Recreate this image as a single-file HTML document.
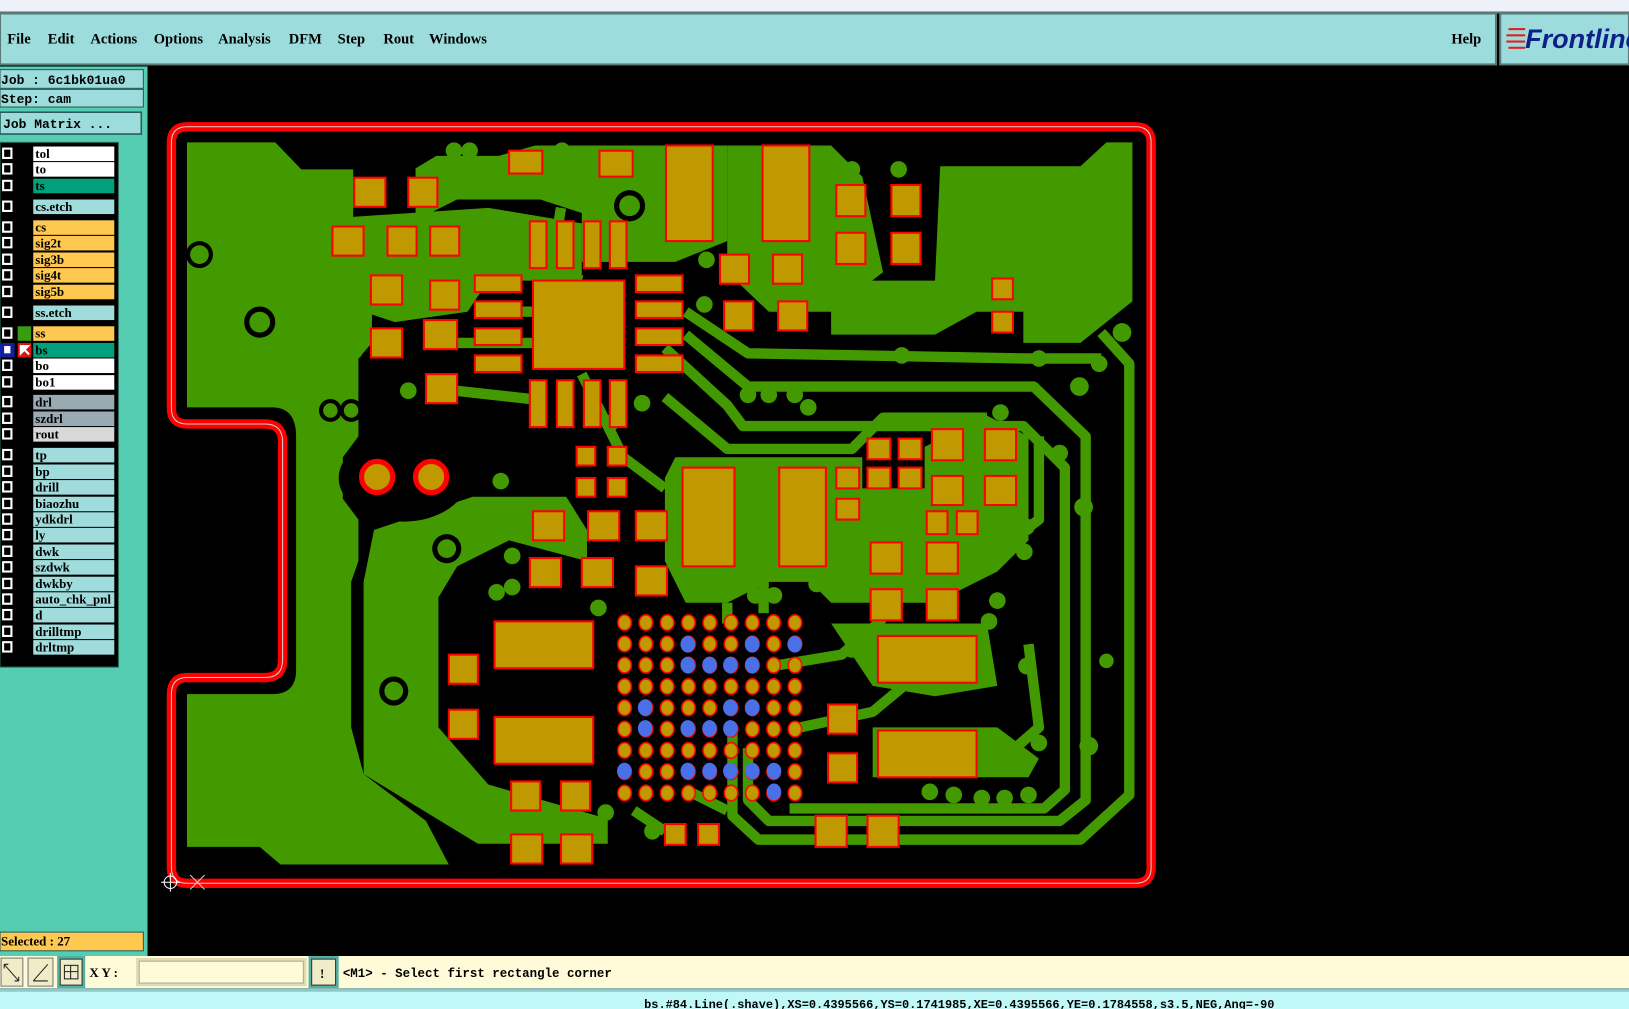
<!DOCTYPE html>
<html><head><meta charset="utf-8"><style>
html,body{margin:0;padding:0;background:#000;overflow:hidden}
svg{display:block}
.m{font-family:"Liberation Serif",serif;font-weight:bold;font-size:14px;fill:#000}
.t{font-family:"Liberation Mono",monospace;font-weight:bold;font-size:12.5px;fill:#000}
.r{font-family:"Liberation Serif",serif;font-weight:bold;font-size:12.5px;fill:#000}
</style></head><body>
<svg width="1629" height="1009" viewBox="0 0 1568 971" preserveAspectRatio="none" xmlns="http://www.w3.org/2000/svg">
<defs>
<pattern id="bga" patternUnits="userSpaceOnUse" x="591" y="589" width="20.5" height="20.5">
<ellipse cx="10.2" cy="10.2" rx="6.5" ry="7.5" fill="#c09800" stroke="#ff0000" stroke-width="1.5"/>
</pattern>
</defs>
<rect width="1568" height="971" fill="#000"/>
<!-- title bar -->
<rect x="0" y="0" width="1568" height="12" fill="#eef2f8"/>
<rect x="0" y="11" width="1568" height="2" fill="#5a7a7a"/>
<!-- menu bar -->
<rect x="0" y="13" width="1440" height="49" fill="#9ddcdc" stroke="#5a7a7a" stroke-width="2"/>
<rect x="1444" y="13" width="124" height="49" fill="#9ddcdc" stroke="#5a7a7a" stroke-width="2"/>
<text class="m" x="7" y="42">File</text>
<text class="m" x="46" y="42">Edit</text>
<text class="m" x="87" y="42">Actions</text>
<text class="m" x="148" y="42">Options</text>
<text class="m" x="210" y="42">Analysis</text>
<text class="m" x="278" y="42">DFM</text>
<text class="m" x="325" y="42">Step</text>
<text class="m" x="369" y="42">Rout</text>
<text class="m" x="413" y="42">Windows</text>
<text class="m" x="1397" y="42">Help</text>
<g fill="#e02020"><rect x="1452" y="27" width="16" height="2"/><rect x="1450" y="33" width="18" height="2"/><rect x="1450" y="39" width="18" height="2"/><rect x="1452" y="45" width="16" height="2"/></g>
<text x="1468" y="46" font-family="Liberation Sans,sans-serif" font-weight="bold" font-style="italic" font-size="26" fill="#10208a">Frontline</text>
<!-- left panel -->
<rect x="0" y="64" width="142" height="856" fill="#55cdb2"/>
<rect x="0" y="67" width="138" height="18" fill="#9ddcdc" stroke="#2a5a5a" stroke-width="1"/>
<rect x="0" y="86" width="138" height="17" fill="#9ddcdc" stroke="#2a5a5a" stroke-width="1"/>
<rect x="0" y="108" width="136" height="21" fill="#9ddcdc" stroke="#2a5a5a" stroke-width="1.5"/>
<text class="t" x="1" y="81">Job : 6c1bk01ua0</text>
<text class="t" x="1" y="99">Step: cam</text>
<text class="t" x="3" y="123">Job Matrix ...</text>
<rect x="0" y="137" width="114" height="505" fill="#000" stroke="#2a6a5a"/>
<g class="r">
<rect x="32" y="141" width="78" height="14" fill="#fff"/><text class="r" x="34" y="152">tol</text>
<rect x="32" y="156" width="78" height="14" fill="#fff"/><text class="r" x="34" y="167">to</text>
<rect x="32" y="172" width="78" height="14" fill="#00a07c"/><text class="r" x="34" y="183">ts</text>
<rect x="32" y="192" width="78" height="14" fill="#a0dcdc"/><text class="r" x="34" y="203">cs.etch</text>
<rect x="32" y="212" width="78" height="14" fill="#ffc850"/><text class="r" x="34" y="223">cs</text>
<rect x="32" y="227" width="78" height="14" fill="#ffc850"/><text class="r" x="34" y="238">sig2t</text>
<rect x="32" y="243" width="78" height="14" fill="#ffc850"/><text class="r" x="34" y="254">sig3b</text>
<rect x="32" y="258" width="78" height="14" fill="#ffc850"/><text class="r" x="34" y="269">sig4t</text>
<rect x="32" y="274" width="78" height="14" fill="#ffc850"/><text class="r" x="34" y="285">sig5b</text>
<rect x="32" y="294" width="78" height="14" fill="#a0dcdc"/><text class="r" x="34" y="305">ss.etch</text>
<rect x="32" y="314" width="78" height="14" fill="#ffc850"/><text class="r" x="34" y="325">ss</text>
<rect x="32" y="330" width="78" height="14" fill="#00a07c"/><text class="r" x="34" y="341">bs</text>
<rect x="32" y="345" width="78" height="14" fill="#fff"/><text class="r" x="34" y="356">bo</text>
<rect x="32" y="361" width="78" height="14" fill="#fff"/><text class="r" x="34" y="372">bo1</text>
<rect x="32" y="380" width="78" height="14" fill="#9aaab2"/><text class="r" x="34" y="391">drl</text>
<rect x="32" y="396" width="78" height="14" fill="#9aaab2"/><text class="r" x="34" y="407">szdrl</text>
<rect x="32" y="411" width="78" height="14" fill="#d8d8d8"/><text class="r" x="34" y="422">rout</text>
<rect x="32" y="431" width="78" height="14" fill="#a0dcdc"/><text class="r" x="34" y="442">tp</text>
<rect x="32" y="447" width="78" height="14" fill="#a0dcdc"/><text class="r" x="34" y="458">bp</text>
<rect x="32" y="462" width="78" height="14" fill="#a0dcdc"/><text class="r" x="34" y="473">drill</text>
<rect x="32" y="478" width="78" height="14" fill="#a0dcdc"/><text class="r" x="34" y="489">biaozhu</text>
<rect x="32" y="493" width="78" height="14" fill="#a0dcdc"/><text class="r" x="34" y="504">ydkdrl</text>
<rect x="32" y="508" width="78" height="14" fill="#a0dcdc"/><text class="r" x="34" y="519">ly</text>
<rect x="32" y="524" width="78" height="14" fill="#a0dcdc"/><text class="r" x="34" y="535">dwk</text>
<rect x="32" y="539" width="78" height="14" fill="#a0dcdc"/><text class="r" x="34" y="550">szdwk</text>
<rect x="32" y="555" width="78" height="14" fill="#a0dcdc"/><text class="r" x="34" y="566">dwkby</text>
<rect x="32" y="570" width="78" height="14" fill="#a0dcdc"/><text class="r" x="34" y="581">auto_chk_pnl</text>
<rect x="32" y="585" width="78" height="14" fill="#a0dcdc"/><text class="r" x="34" y="596">d</text>
<rect x="32" y="601" width="78" height="14" fill="#a0dcdc"/><text class="r" x="34" y="612">drilltmp</text>
<rect x="32" y="616" width="78" height="14" fill="#a0dcdc"/><text class="r" x="34" y="627">drltmp</text>
</g>
<g fill="#000" stroke="#fff" stroke-width="2">
<rect x="3" y="143" width="8" height="9"/><rect x="3" y="158" width="8" height="9"/><rect x="3" y="174" width="8" height="9"/>
<rect x="3" y="194" width="8" height="9"/>
<rect x="3" y="214" width="8" height="9"/><rect x="3" y="229" width="8" height="9"/><rect x="3" y="245" width="8" height="9"/><rect x="3" y="260" width="8" height="9"/><rect x="3" y="276" width="8" height="9"/>
<rect x="3" y="296" width="8" height="9"/>
<rect x="3" y="316" width="8" height="9"/><rect x="3" y="347" width="8" height="9"/><rect x="3" y="363" width="8" height="9"/>
<rect x="3" y="382" width="8" height="9"/><rect x="3" y="398" width="8" height="9"/><rect x="3" y="413" width="8" height="9"/>
<rect x="3" y="433" width="8" height="9"/><rect x="3" y="449" width="8" height="9"/><rect x="3" y="464" width="8" height="9"/><rect x="3" y="480" width="8" height="9"/><rect x="3" y="495" width="8" height="9"/><rect x="3" y="510" width="8" height="9"/><rect x="3" y="526" width="8" height="9"/><rect x="3" y="541" width="8" height="9"/><rect x="3" y="557" width="8" height="9"/><rect x="3" y="572" width="8" height="9"/><rect x="3" y="587" width="8" height="9"/><rect x="3" y="603" width="8" height="9"/><rect x="3" y="618" width="8" height="9"/>
</g>
<rect x="0" y="330" width="14" height="14" fill="#1020a0"/><rect x="4" y="333" width="6" height="7" fill="#fff"/>
<rect x="17" y="314" width="13" height="14" fill="#3a9a10"/>
<rect x="17" y="330" width="13" height="14" fill="#e01010"/>
<path d="M20,333 L27,333 L20,340 Z M22,335 L28,341" stroke="#fff" stroke-width="2" fill="#fff"/>
<rect x="0" y="897" width="138" height="18" fill="#ffc850" stroke="#2a5a5a"/>
<text class="r" x="1" y="910">Selected : 27</text>
<!-- bottom bar -->
<rect x="0" y="920" width="1568" height="31" fill="#fffbd8"/>
<rect x="1" y="922" width="21" height="27" fill="#f0ecc8" stroke="#777"/>
<rect x="27" y="922" width="24" height="27" fill="#f0ecc8" stroke="#777"/>
<rect x="55" y="920" width="27" height="31" fill="#55b0a0"/><rect x="58" y="923" width="21" height="25" fill="#f0ecc8" stroke="#333"/>
<path d="M4,928 L18,944 M4,928 h4 M4,928 v4 M18,944 h-4 M18,944 v-4" stroke="#222" fill="none"/>
<path d="M32,944 L46,928 M32,944 h14" stroke="#222" fill="none"/>
<rect x="62" y="929" width="13" height="13" fill="none" stroke="#222"/><path d="M68,929 v13 M62,935 h13" stroke="#222"/>
<text class="r" x="86" y="940">X Y :</text>
<rect x="131" y="922" width="164" height="27" fill="#e0dcb0"/><rect x="134" y="925" width="158" height="21" fill="#fffbd8" stroke="#aaa"/>
<rect x="297" y="920" width="29" height="31" fill="#55b0a0"/><rect x="300" y="923" width="23" height="25" fill="#f0ecc8" stroke="#333"/>
<text class="r" x="308" y="941">!</text>
<text class="t" x="330" y="940" style="font-size:12px">&lt;M1&gt; - Select first rectangle corner</text>
<rect x="0" y="951" width="1568" height="3" fill="#90c8c8"/>
<rect x="0" y="954" width="1568" height="17" fill="#c0f8f8"/>
<text class="t" x="620" y="970" style="font-size:11.5px">bs.#84.Line(.shave),XS=0.4395566,YS=0.1741985,XE=0.4395566,YE=0.1784558,s3.5,NEG,Ang=-90</text>

<!-- BOARD -->
<g fill="#439a00">
<path d="M180,137 H265 L290,163 H340 V260 L358,280 V330 L345,345 V420 L330,440 L330,480 L345,500 V540 L338,560 V700 L350,745 L410,790 L432,832 H270 L250,815 H180 V668 H262 Q285,668 285,645 V420 Q285,392 262,392 H180 Z"/>
<path d="M360,510 L455,478 H545 L565,510 V540 L490,520 L440,545 L422,575 V700 L470,755 L585,788 V812 L460,812 L350,745 V560 Z"/>
<path d="M905,160 H1040 L1065,137 H1090 V290 L1040,330 H985 V300 H940 L900,322 H800 V270 H900 Z"/>
<path d="M400,162 L420,150 H480 L515,140 H700 V232 L650,252 H560 V205 L520,192 H440 L400,212 Z"/>
<path d="M700,140 H800 L830,170 L850,262 L800,300 H740 L700,262 Z"/>
<path d="M650,440 H830 V470 H890 V430 L950,400 L990,420 V520 L960,550 L900,580 H800 L780,560 H740 L700,580 H660 L640,540 V460 Z"/>
<path d="M320,210 L470,200 L560,215 V270 H470 L450,300 L380,310 L320,290 Z"/>
<path d="M800,600 L850,600 L950,600 L960,660 L900,670 L840,660 Z"/>
<path d="M840,700 L960,700 L1000,730 L990,748 L840,748 Z"/>
</g>
<g fill="none" stroke="#439a00" stroke-width="10" stroke-linejoin="round">
<polyline points="1060,320 1087,350 1087,765 1040,808 730,808 705,785 705,700"/>
<polyline points="660,322 720,372 995,372 1045,420 1045,770 1020,790 740,790 720,770 720,720"/>
<polyline points="640,335 700,390 715,410 985,410 1025,450 1025,760 1005,778 760,778"/>
<polyline points="640,382 700,432 820,432 850,402 950,402"/>
<polyline points="660,300 720,340 990,345 1060,345"/>
<polyline points="990,620 1000,700 960,735 900,735"/>
<polyline points="750,640 810,630 845,600 880,560"/>
<polyline points="770,700 840,685 870,660"/>
<polyline points="560,360 600,440 640,470"/>
<polyline points="480,300 540,300"/>
<polyline points="430,330 470,330 520,330"/>
<polyline points="540,200 530,260 560,270"/>
<polyline points="735,550 735,590"/>
<polyline points="700,580 700,600"/>
<polyline points="660,760 700,780"/>
<polyline points="610,780 640,800"/>
<polyline points="430,375 520,385"/>
<polyline points="740,230 760,250 760,290"/>
<polyline points="920,560 1000,500 1000,420"/>
</g>
<!-- black voids -->
<ellipse cx="388" cy="460" rx="62" ry="42" fill="#000"/>
<g fill="#000"><circle cx="192" cy="245" r="13"/><circle cx="250" cy="310" r="15"/><circle cx="606" cy="198" r="15"/><circle cx="430" cy="528" r="14"/><circle cx="379" cy="665" r="14"/><circle cx="318" cy="395" r="11"/><circle cx="338" cy="395" r="11"/></g>
<g fill="#439a00"><circle cx="192" cy="245" r="9"/><circle cx="250" cy="310" r="10"/><circle cx="606" cy="198" r="10"/><circle cx="430" cy="528" r="9"/><circle cx="379" cy="665" r="9"/><circle cx="318" cy="395" r="7"/><circle cx="338" cy="395" r="7"/></g>
<!-- vias -->
<g fill="#439a00">
<circle cx="437" cy="145" r="8"/><circle cx="452" cy="145" r="8"/><circle cx="541" cy="145" r="8"/><circle cx="820" cy="163" r="8"/><circle cx="865" cy="163" r="8"/><circle cx="708" cy="230" r="8"/><circle cx="680" cy="250" r="8"/><circle cx="678" cy="293" r="8"/><circle cx="548" cy="185" r="8"/><circle cx="333" cy="293" r="8"/><circle cx="341" cy="338" r="8"/><circle cx="393" cy="376" r="8"/><circle cx="482" cy="463" r="8"/><circle cx="720" cy="380" r="8"/><circle cx="740" cy="380" r="8"/><circle cx="765" cy="380" r="8"/><circle cx="778" cy="392" r="8"/><circle cx="618" cy="388" r="8"/><circle cx="588" cy="407" r="8"/><circle cx="493" cy="535" r="8"/><circle cx="478" cy="570" r="8"/><circle cx="493" cy="565" r="8"/><circle cx="576" cy="585" r="8"/><circle cx="683" cy="555" r="8"/><circle cx="727" cy="573" r="8"/><circle cx="745" cy="573" r="8"/><circle cx="820" cy="625" r="8"/><circle cx="1000" cy="345" r="8"/><circle cx="1080" cy="320" r="9"/><circle cx="1058" cy="350" r="8"/><circle cx="1039" cy="372" r="9"/><circle cx="1043" cy="488" r="9"/><circle cx="988" cy="507" r="8"/><circle cx="986" cy="531" r="8"/><circle cx="960" cy="578" r="8"/><circle cx="952" cy="598" r="8"/><circle cx="988" cy="641" r="8"/><circle cx="1048" cy="718" r="9"/><circle cx="1000" cy="715" r="8"/><circle cx="955" cy="708" r="8"/><circle cx="895" cy="762" r="8"/><circle cx="918" cy="765" r="8"/><circle cx="945" cy="768" r="8"/><circle cx="967" cy="768" r="8"/><circle cx="990" cy="765" r="8"/><circle cx="1020" cy="436" r="8"/><circle cx="628" cy="800" r="8"/><circle cx="583" cy="782" r="8"/><circle cx="407" cy="722" r="8"/><circle cx="963" cy="397" r="8"/><circle cx="868" cy="342" r="8"/><circle cx="1065" cy="636" r="7"/><circle cx="786" cy="562" r="8"/><circle cx="812" cy="565" r="8"/>
</g>
<!-- pads -->
<g fill="#c09800" stroke="#ff0000" stroke-width="2">
<rect x="341" y="171" width="30" height="28"/><rect x="393" y="171" width="28" height="28"/><rect x="320" y="218" width="30" height="28"/><rect x="373" y="218" width="28" height="28"/><rect x="414" y="218" width="28" height="28"/><rect x="357" y="265" width="30" height="28"/><rect x="414" y="270" width="28" height="28"/><rect x="357" y="316" width="30" height="28"/><rect x="408" y="308" width="32" height="28"/><rect x="410" y="360" width="30" height="28"/>
<rect x="490" y="145" width="32" height="22"/><rect x="577" y="145" width="32" height="25"/>
<rect x="641" y="140" width="45" height="92"/><rect x="734" y="140" width="45" height="92"/>
<rect x="805" y="178" width="28" height="30"/><rect x="858" y="178" width="28" height="30"/><rect x="805" y="224" width="28" height="30"/><rect x="858" y="224" width="28" height="30"/>
<rect x="693" y="245" width="28" height="28"/><rect x="744" y="245" width="28" height="28"/><rect x="697" y="290" width="28" height="28"/><rect x="749" y="290" width="28" height="28"/>
<rect x="513" y="270" width="88" height="85"/>
<rect x="510" y="213" width="16" height="45"/><rect x="536" y="213" width="16" height="45"/><rect x="562" y="213" width="16" height="45"/><rect x="587" y="213" width="16" height="45"/>
<rect x="510" y="366" width="16" height="45"/><rect x="536" y="366" width="16" height="45"/><rect x="562" y="366" width="16" height="45"/><rect x="587" y="366" width="16" height="45"/>
<rect x="457" y="265" width="45" height="16"/><rect x="457" y="290" width="45" height="16"/><rect x="457" y="316" width="45" height="16"/><rect x="457" y="342" width="45" height="16"/>
<rect x="612" y="265" width="45" height="16"/><rect x="612" y="290" width="45" height="16"/><rect x="612" y="316" width="45" height="16"/><rect x="612" y="342" width="45" height="16"/>
<rect x="955" y="268" width="20" height="20"/><rect x="955" y="300" width="20" height="20"/>
<rect x="555" y="430" width="18" height="18"/><rect x="585" y="430" width="18" height="18"/><rect x="555" y="460" width="18" height="18"/><rect x="585" y="460" width="18" height="18"/>
<rect x="513" y="492" width="30" height="28"/><rect x="566" y="492" width="30" height="28"/><rect x="612" y="492" width="30" height="28"/><rect x="510" y="537" width="30" height="28"/><rect x="560" y="537" width="30" height="28"/><rect x="612" y="545" width="30" height="28"/>
<rect x="657" y="450" width="50" height="95"/><rect x="750" y="450" width="45" height="95"/>
<rect x="805" y="450" width="22" height="20"/><rect x="835" y="422" width="22" height="20"/><rect x="865" y="422" width="22" height="20"/><rect x="835" y="450" width="22" height="20"/><rect x="865" y="450" width="22" height="20"/><rect x="805" y="480" width="22" height="20"/>
<rect x="897" y="413" width="30" height="30"/><rect x="948" y="413" width="30" height="30"/><rect x="897" y="458" width="30" height="28"/><rect x="948" y="458" width="30" height="28"/><rect x="892" y="492" width="20" height="22"/><rect x="921" y="492" width="20" height="22"/>
<rect x="838" y="522" width="30" height="30"/><rect x="892" y="522" width="30" height="30"/><rect x="838" y="567" width="30" height="30"/><rect x="892" y="567" width="30" height="30"/>
<rect x="845" y="612" width="95" height="45"/><rect x="845" y="703" width="95" height="45"/>
<rect x="476" y="598" width="95" height="45"/><rect x="476" y="690" width="95" height="45"/><rect x="432" y="630" width="28" height="28"/><rect x="432" y="683" width="28" height="28"/>
<rect x="797" y="678" width="28" height="28"/><rect x="797" y="725" width="28" height="28"/>
<rect x="492" y="752" width="28" height="28"/><rect x="540" y="752" width="28" height="28"/><rect x="492" y="803" width="30" height="28"/><rect x="540" y="803" width="30" height="28"/>
<rect x="640" y="793" width="20" height="20"/><rect x="672" y="793" width="20" height="20"/><rect x="785" y="785" width="30" height="30"/><rect x="835" y="785" width="30" height="30"/>
</g>
<g fill="#c09800" stroke="#ff0000" stroke-width="5"><circle cx="363" cy="459" r="15"/><circle cx="415" cy="459" r="15"/></g>
<rect x="591" y="589" width="184.5" height="184.5" fill="url(#bga)"/>
<g fill="#4a70e8">
<ellipse cx="662" cy="620" rx="7" ry="8"/><ellipse cx="724" cy="620" rx="7" ry="8"/><ellipse cx="765" cy="620" rx="7" ry="8"/>
<ellipse cx="662" cy="640" rx="7" ry="8"/><ellipse cx="683" cy="640" rx="7" ry="8"/><ellipse cx="703" cy="640" rx="7" ry="8"/><ellipse cx="724" cy="640" rx="7" ry="8"/>
<ellipse cx="621" cy="681" rx="7" ry="8"/><ellipse cx="703" cy="681" rx="7" ry="8"/><ellipse cx="724" cy="681" rx="7" ry="8"/>
<ellipse cx="621" cy="701" rx="7" ry="8"/><ellipse cx="662" cy="701" rx="7" ry="8"/><ellipse cx="683" cy="701" rx="7" ry="8"/><ellipse cx="703" cy="701" rx="7" ry="8"/>
<ellipse cx="601" cy="742" rx="7" ry="8"/><ellipse cx="662" cy="742" rx="7" ry="8"/><ellipse cx="683" cy="742" rx="7" ry="8"/><ellipse cx="703" cy="742" rx="7" ry="8"/><ellipse cx="724" cy="742" rx="7" ry="8"/><ellipse cx="745" cy="742" rx="7" ry="8"/>
<ellipse cx="745" cy="762" rx="7" ry="8"/>
</g>
<!-- outline -->
<path d="M180,122 H1093 Q1108,122 1108,137 V835 Q1108,850 1093,850 H180 Q165,850 165,835 V668 Q165,652 180,652 H255 Q272,652 272,635 V425 Q272,408 255,408 H180 Q165,408 165,393 V137 Q165,122 180,122 Z" fill="none" stroke="#ff0000" stroke-width="9"/>
<path d="M180,122 H1093 Q1108,122 1108,137 V835 Q1108,850 1093,850 H180 Q165,850 165,835 V668 Q165,652 180,652 H255 Q272,652 272,635 V425 Q272,408 255,408 H180 Q165,408 165,393 V137 Q165,122 180,122 Z" fill="none" stroke="#d0d0d0" stroke-width="1"/>
<g stroke="#fff" fill="none" stroke-width="1"><circle cx="164" cy="849" r="6"/><path d="M155,849 h18 M164,840 v18"/><path d="M183,842 l14,14 M197,842 l-14,14" stroke="#ccc"/></g>
</svg>
</body></html>
